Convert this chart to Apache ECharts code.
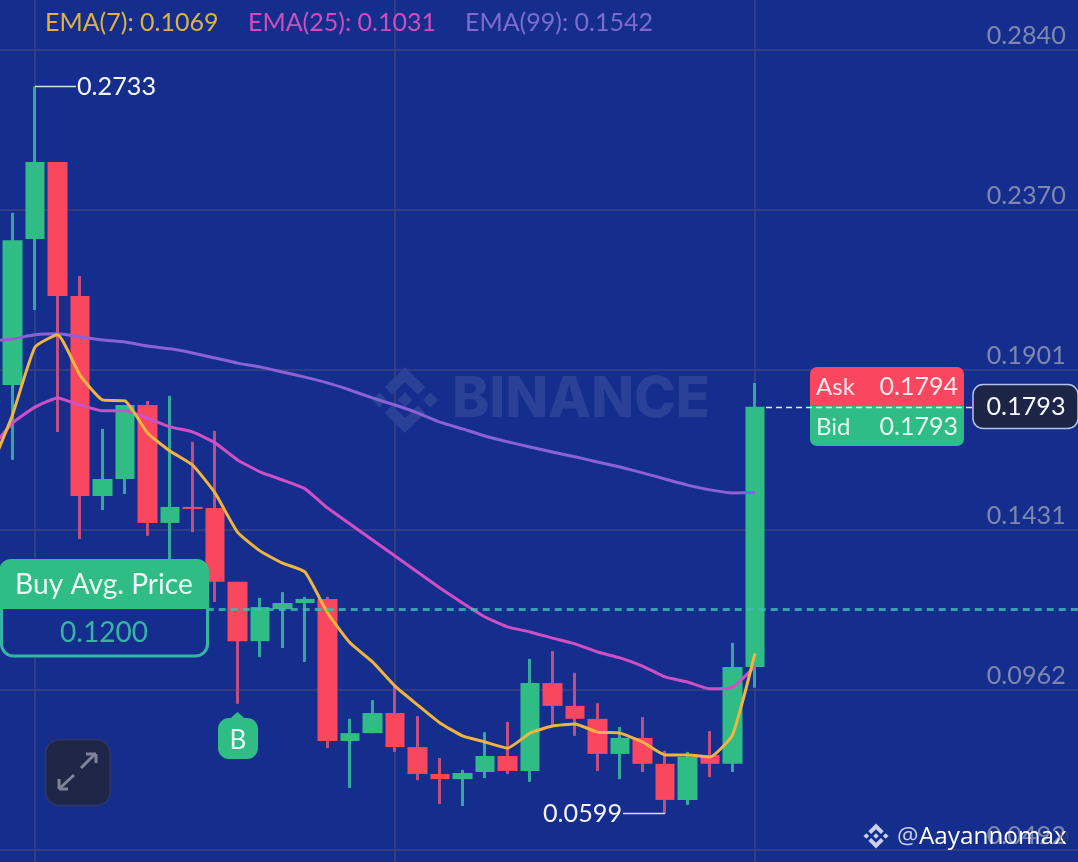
<!DOCTYPE html>
<html><head><meta charset="utf-8">
<style>html,body{margin:0;padding:0;background:#152E8D}#c{width:1078px;height:862px}</style>
<script src="https://cdn.jsdelivr.net/npm/echarts@6/dist/echarts.min.js"></script>
</head><body><div id="c"></div>
<script>
const opens  = [0.1857,0.2285,0.2511,0.2118,0.1531,0.1581,0.1798,0.1452,0.1499,0.1496,0.1279,0.1105,0.1199,0.1217,0.1229,0.0812,0.0835,0.0894,0.0794,0.0715,0.0700,0.0721,0.0768,0.0724,0.0982,0.0915,0.0877,0.0774,0.0821,0.0745,0.0639,0.0771,0.0745,0.1029];
const closes = [0.2282,0.2511,0.2118,0.1531,0.1581,0.1798,0.1452,0.1499,0.1493,0.1279,0.1105,0.1205,0.1217,0.1229,0.0812,0.0835,0.0894,0.0794,0.0715,0.0700,0.0718,0.0768,0.0724,0.0982,0.0915,0.0877,0.0774,0.0821,0.0745,0.0639,0.0765,0.0745,0.1029,0.1793];
const lows   = [0.1637,0.2077,0.1719,0.1405,0.1490,0.1537,0.1414,0.1299,0.1425,0.1220,0.0921,0.1058,0.1085,0.1044,0.0791,0.0674,0.0835,0.0780,0.0697,0.0627,0.0621,0.0703,0.0715,0.0692,0.0859,0.0827,0.0724,0.0700,0.0721,0.0599,0.0624,0.0706,0.0721,0.0968];
const highs  = [0.2362,0.2733,0.2511,0.2177,0.1728,0.1798,0.1810,0.1825,0.1690,0.1722,0.1279,0.1232,0.1249,0.1235,0.1235,0.0877,0.0932,0.0973,0.0885,0.0762,0.0727,0.0838,0.0868,0.1053,0.1076,0.1012,0.0923,0.0853,0.0882,0.0783,0.0780,0.0841,0.1100,0.1863];
// EMA series: first entry is the point just left of the visible frame
const ema7  = [0.1607,0.1769,0.1968,0.2004,0.1886,0.1813,0.1810,0.1716,0.1663,0.1622,0.1540,0.1425,0.1370,0.1334,0.1308,0.1188,0.1100,0.1044,0.0973,0.0918,0.0865,0.0827,0.0809,0.0791,0.0835,0.0856,0.0862,0.0838,0.0835,0.0809,0.0771,0.0771,0.0765,0.0830,0.1069];
const ema25 = [0.1666,0.1745,0.1792,0.1819,0.1798,0.1781,0.1781,0.1760,0.1734,0.1719,0.1687,0.1637,0.1602,0.1578,0.1552,0.1496,0.1449,0.1402,0.1355,0.1308,0.1261,0.1217,0.1176,0.1147,0.1132,0.1114,0.1097,0.1073,0.1056,0.1032,0.1000,0.0985,0.0965,0.0970,0.1031];
const ema99 = [0.1986,0.1992,0.2004,0.2007,0.1998,0.1989,0.1983,0.1971,0.1963,0.1951,0.1936,0.1921,0.1910,0.1895,0.1880,0.1863,0.1842,0.1819,0.1798,0.1775,0.1748,0.1728,0.1707,0.1690,0.1675,0.1660,0.1646,0.1631,0.1616,0.1599,0.1581,0.1563,0.1549,0.1540,0.1542];
const yTicks = [0.0492,0.0962,0.1431,0.1901,0.2370,0.2840];
const legendTexts = ['EMA(7): 0.1069','EMA(25): 0.1031','EMA(99): 0.1542'];
const buyAvg = 0.1200, lastPrice = 0.1793, askPrice = 0.1794, bidPrice = 0.1793;

const BG='#152E8D', UP='#2FBD85', DOWN='#F9475F', UPW='#35A89E', DOWNW='#C24E80';
const FONT='Lato, sans-serif';
const categories = Array.from({length:50},(_,i)=>String(i));
const EMPTY=['-','-','-','-'];
const wick = [EMPTY].concat(opens.map((o,i)=>[o,closes[i],lows[i],highs[i]]));
const body = [EMPTY].concat(opens.map((o,i)=>[o,closes[i],Math.min(o,closes[i]),Math.max(o,closes[i])]));

const chart = echarts.init(document.getElementById('c'),null,{renderer:'canvas'});
const gridLine={color:'#3B437C',width:1.6};
function lineSeries(name,data,color){return {name,type:'line',data,symbol:'none',smooth:0.15,z:6,
  lineStyle:{color,width:3},itemStyle:{color},silent:true};}
chart.setOption({
  animation:false,backgroundColor:BG,
  grid:{left:-21.25,top:0,width:1125,height:862,containLabel:false,outerBoundsMode:'none'},
  xAxis:{type:'category',data:categories,boundaryGap:true,
    axisLine:{show:false},axisTick:{show:false},axisLabel:{show:false},
    splitLine:{show:true,alignWithLabel:true,interval:(i)=>(i-2)%16===0,lineStyle:gridLine}},
  yAxis:{type:'value',position:'right',min:0.04568,max:0.29868,
    axisLine:{show:false},axisTick:{show:false,customValues:yTicks},
    axisLabel:{customValues:yTicks,inside:true,margin:38,verticalAlign:'bottom',
      color:'#7E87AE',fontFamily:FONT,fontSize:25.2,lineHeight:28,formatter:v=>v.toFixed(4),align:'right'},
    splitLine:{show:true,lineStyle:gridLine}},
  series:[
    {name:'wick',type:'candlestick',data:wick,barWidth:1,z:3,silent:true,
      itemStyle:{color:UPW,color0:DOWNW,borderColor:UPW,borderColor0:DOWNW,borderWidth:3},
      markLine:{silent:true,symbol:'none',z:7,label:{show:false},
        lineStyle:{color:'rgba(62,190,175,0.8)',type:[7,5],width:2.8},data:[{yAxis:buyAvg}]}},
    {name:'body',type:'candlestick',data:body,barWidth:20,z:4,silent:true,
      itemStyle:{color:UP,color0:DOWN,borderColor:UP,borderColor0:DOWN,borderWidth:0}},
    lineSeries('EMA(99)',ema99,'#8A62D6'),
    lineSeries('EMA(25)',ema25,'#CF4FC6'),
    lineSeries('EMA(7)',ema7,'#EFB53C')
  ]
});

function px(i,v){return chart.convertToPixel({xAxisIndex:0,yAxisIndex:0},[String(i+1),v]);}
function logoShapes(cx,cy,size,fill,z){
  const k=size/126.61, ox=cx-size/2, oy=cy-size/2;
  const polys=[
   [[38.73,53.2],[63.3,28.64],[87.9,53.2],[102.2,38.9],[63.3,0],[24.44,38.9]],
   [[0,63.3],[14.3,49],[28.6,63.3],[14.3,77.6]],
   [[38.73,73.41],[63.3,97.97],[87.88,73.41],[102.2,87.7],[63.3,126.6],[24.42,87.7]],
   [[98,63.3],[112.3,49],[126.6,63.3],[112.3,77.6]],
   [[63.3,49],[77.6,63.3],[63.3,77.6],[49,63.3]]];
  return polys.map(p=>({type:'polygon',z,silent:true,shape:{points:p.map(q=>[ox+q[0]*k,oy+q[1]*k])},style:{fill}}));
}
function text(x,y,t,size,fill,align,extra){return Object.assign({type:'text',z:(extra&&extra.z)||50,silent:true,x,y,
  style:{text:t,fill,fontSize:size,fontFamily:(extra&&extra.font)||FONT,fontWeight:(extra&&extra.weight)||400,align:align||'left',verticalAlign:'middle'}});}
function rrect(x,y,w,h,r,fill,stroke,lw,z){return {type:'rect',z:z||50,silent:true,shape:{x,y,width:w,height:h,r},
  style:{fill,stroke:stroke||null,lineWidth:lw||0}};}
function seg(a,b,stroke,lw,dash,z){return {type:'line',z:z||50,silent:true,shape:{x1:a[0],y1:a[1],x2:b[0],y2:b[1]},
  style:{stroke,lineWidth:lw,lineDash:dash||null}};}

const hi=px(1,highs[1]), lo=px(29,lows[29]), lastP=px(33,lastPrice), bLow=px(10,lows[10]);
const yLast=Math.round(lastP[1])+0.5;
const els=[
  text(45,23,legendTexts[0],25,'#DDB14A'),
  text(248,23,legendTexts[1],25,'#CB4FBD'),
  text(465,23,legendTexts[2],25,'#7D6BD0'),
  // high / low annotations
  seg([hi[0],hi[1]],[76,hi[1]],'#D8DEF2',1.5),
  text(77,hi[1],highs[1].toFixed(4),25.2,'#F2F5FF'),
  seg([lo[0],lo[1]],[623,lo[1]],'#D8DEF2',1.5),
  text(622,lo[1],lows[29].toFixed(4),25.2,'#F2F5FF','right'),
  // Buy avg box
  rrect(1.5,590,206,66,12,BG,'#35B5A4',3,50),
  rrect(-1,559,210,50,[12,12,0,0],UP,null,0,51),
  text(104,585,'Buy Avg. Price',28.2,'#EAFBF5','center',{z:52}),
  text(104,633,buyAvg.toFixed(4),28,'#35B5A4','center',{z:52}),
  // B marker
  {type:'polygon',z:50,silent:true,shape:{points:[[bLow[0],712],[bLow[0]-9,720],[bLow[0]+9,720]]},style:{fill:UP}},
  rrect(218,718,40,41,11,UP),
  text(bLow[0]+0.5,741,'B',26,'#EAFBF5','center',{z:52}),
  // expand button
  rrect(45.5,739.5,65,66,14,'#1E2748','#2B3468',2),
  seg([60,788],[74,775],'#7F8498',3), seg([59,779],[59,789],'#7F8498',3), seg([59,789],[68,789],'#7F8498',3),
  seg([81,768],[95,754],'#7F8498',3), seg([86,754],[96,754],'#7F8498',3), seg([96,754],[96,763],'#7F8498',3),
  // Ask / bid
  rrect(810,367,154,40,[7,7,0,0],DOWN),
  rrect(810,406,154,40,[0,0,7,7],UP),
  text(816,387,'Ask',24,'#FBE9EC','left',{z:52}),
  text(958,387,askPrice.toFixed(4),25,'#FBE9EC','right',{z:52}),
  text(816,427,'Bid',24,'#E6FBF3','left',{z:52}),
  text(958,427,bidPrice.toFixed(4),25,'#E6FBF3','right',{z:52}),
  seg([766,yLast],[973,yLast],'#E4E8F6',1.5,[6,4],53),
  rrect(973,384.5,105,44,10,'#1C2545','#B4C2EC',1.5,54),
  text(1026,406.5,lastPrice.toFixed(4),25.2,'#F4F6FF','center',{z:55}),
  // user mark
  text(897,837,'@',24,'#C9D0EA','left',{font:'"Open Sans",sans-serif'}),
  text(919,837,'Aayannomax',24.3,'#FFFFFF','left',{font:'"Open Sans",sans-serif'}),
  text(1064,838,'M',12,'#3A4470','center',{font:'"Open Sans",sans-serif',z:56})
].concat(logoShapes(876,836,25,'#C9D0EA',50))
 .concat(logoShapes(405,400,66,'#2B4197',1))
 .concat([{type:'text',z:1,silent:true,x:452,y:400,style:{text:'BINANCE',fill:'#2B4197',fontSize:56,fontWeight:800,fontFamily:'Inter, sans-serif',align:'left',verticalAlign:'middle'}}]);
chart.setOption({graphic:{elements:els}});
</script></body></html>
